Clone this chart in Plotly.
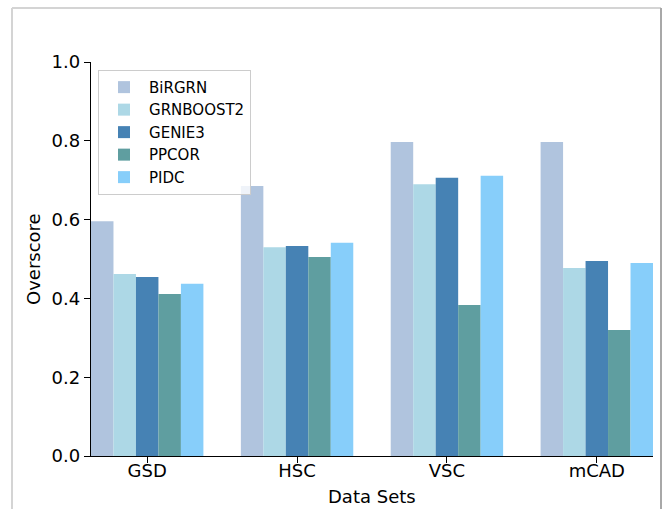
import plotly.graph_objects as go

datasets = ["GSD", "HSC", "VSC", "mCAD"]
methods = ["BiRGRN", "GRNBOOST2", "GENIE3", "PPCOR", "PIDC"]
birgrn = [0.596, 0.685, 0.797, 0.797]
grnboost2 = [0.462, 0.530, 0.690, 0.477]
genie3 = [0.454, 0.533, 0.706, 0.495]
ppcor = [0.411, 0.505, 0.383, 0.320]
pidc = [0.437, 0.541, 0.711, 0.490]
colors = ["#B0C4DE", "#ADD8E6", "#4682B4", "#5F9EA0", "#87CEFA"]
yticks = [0.0, 0.2, 0.4, 0.6, 0.8, 1.0]

series = [birgrn, grnboost2, genie3, ppcor, pidc]

fig = go.Figure()
for name, vals, col in zip(methods, series, colors):
    fig.add_trace(go.Bar(x=datasets, y=vals, name=name, marker=dict(color=col, line=dict(width=0))))

FONT = "DejaVu Sans"
fig.update_layout(
    width=664, height=509,
    margin=dict(l=91, r=11, t=62, b=53, autoexpand=False),
    paper_bgcolor="white", plot_bgcolor="white",
    barmode="group", bargap=0.25, bargroupgap=0,
    font=dict(family=FONT, color="black", size=18),
    showlegend=True,
    legend=dict(
        x=0.0125, y=0.98, xanchor="left", yanchor="top",
        bgcolor="rgba(255,255,255,0.8)", bordercolor="#cccccc", borderwidth=1,
        font=dict(family=FONT, size=15, color="black"),
        itemwidth=40,
    ),
    xaxis=dict(
        range=[-0.375, 3.375], showline=True, linecolor="black", linewidth=1.3,
        ticks="outside", ticklen=6, tickwidth=1.3, tickcolor="black",
        showgrid=False, zeroline=False, automargin=False,
        tickfont=dict(family=FONT, size=18), ticklabelstandoff=-8,
    ),
    yaxis=dict(
        range=[0, 1.0], showline=True, linecolor="black", linewidth=1.3,
        ticks="outside", ticklen=6, tickwidth=1.3, tickcolor="black",
        tickvals=yticks, ticktext=[f"{v:.1f}" for v in yticks],
        showgrid=False, zeroline=False, automargin=False,
        tickfont=dict(family=FONT, size=18),
    ),
)

def px_x(p):
    return (p - 91) / 562

def px_y(p):
    return (456 - p) / 394

# axis titles
fig.add_annotation(text="Data Sets", xref="paper", yref="paper", x=0.5, y=px_y(497),
                   xanchor="center", yanchor="middle", showarrow=False,
                   font=dict(family=FONT, size=18, color="black"))
fig.add_annotation(text="Overscore", xref="paper", yref="paper", x=px_x(33), y=0.5,
                   xanchor="center", yanchor="middle", showarrow=False, textangle=-90,
                   font=dict(family=FONT, size=18, color="black"))

# outer frame lines (figure border visible in the reference)
fig.add_shape(type="line", xref="paper", yref="paper", x0=px_x(12), x1=px_x(12), y0=px_y(8), y1=px_y(520),
              line=dict(color="#d4d4d4", width=2))
fig.add_shape(type="line", xref="paper", yref="paper", x0=px_x(12), x1=px_x(661), y0=px_y(8), y1=px_y(8),
              line=dict(color="#d4d4d4", width=2))
fig.add_shape(type="line", xref="paper", yref="paper", x0=px_x(661), x1=px_x(661), y0=px_y(8), y1=px_y(520),
              line=dict(color="#a8a8a8", width=2))

fig.write_html("out.html", config={"displayModeBar": False},
               post_script="document.body.style.margin='0px';")
